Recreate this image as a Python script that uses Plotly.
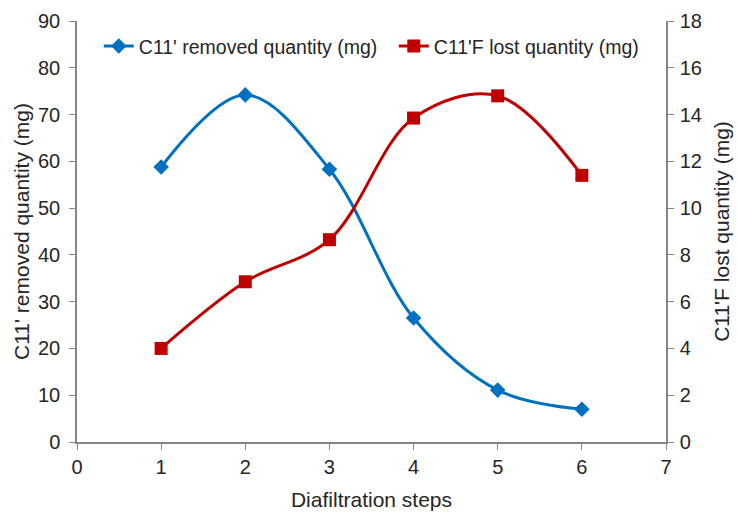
import plotly.graph_objects as go

steps = [1, 2, 3, 4, 5, 6]
removed = [58.8, 74.2, 58.3, 26.5, 11.1, 7.0]
lost = [4.0, 6.85, 8.65, 13.85, 14.8, 11.4]

blue = "#0070C0"
red = "#C00000"
axc = "#868686"
txt = "#262626"
font = "Liberation Sans, Arial, sans-serif"

fig = go.Figure()
fig.add_trace(go.Scatter(
    x=steps, y=removed, name="C11' removed quantity (mg)",
    mode="lines+markers", line=dict(color=blue, width=3, shape="spline", smoothing=1),
    marker=dict(symbol="diamond", size=12, color=blue)))
fig.add_trace(go.Scatter(
    x=steps, y=lost, name="C11'F lost quantity (mg)", yaxis="y2",
    mode="lines+markers", line=dict(color=red, width=3, shape="spline", smoothing=1),
    marker=dict(symbol="square", size=13, color=red)))

tickfont = dict(family=font, size=20, color=txt)
titlefont = dict(family=font, size=21, color=txt)
fig.update_layout(
    width=738, height=515,
    margin=dict(l=77, r=72, t=21, b=73),
    paper_bgcolor="white", plot_bgcolor="white",
    font=dict(family=font, color=txt),
    showlegend=True,
    legend=dict(orientation="h", x=0.037, y=0.94, xanchor="left", yanchor="middle",
                font=dict(family=font, size=19.5, color=txt), bgcolor="rgba(0,0,0,0)",
                entrywidth=250, tracegroupgap=0),
    xaxis=dict(range=[0, 7], dtick=1, showgrid=False, zeroline=False, automargin=False,
               showline=True, linecolor=axc, linewidth=1.5, ticks="outside",
               tickcolor=axc, ticklen=6, tickfont=tickfont,
               title=dict(text="Diafiltration steps", font=titlefont, standoff=16)),
    yaxis=dict(range=[0, 90], dtick=10, showgrid=False, zeroline=False, automargin=False,
               showline=True, linecolor=axc, linewidth=1.5, ticks="outside",
               tickcolor=axc, ticklen=6, tickfont=tickfont, ticklabelstandoff=5,
               title=dict(text="C11' removed quantity (mg)", font=titlefont, standoff=3)),
    yaxis2=dict(range=[0, 18], dtick=2, overlaying="y", side="right", showgrid=False,
                zeroline=False, showline=True, linecolor=axc, linewidth=1.5, automargin=False,
                ticks="outside", tickcolor=axc, ticklen=6, tickfont=tickfont, ticklabelstandoff=2,
                title=dict(text="C11'F lost quantity (mg)", font=titlefont, standoff=13)),
)

fig.write_html("out.html", config={"displayModeBar": False},
               post_script="document.body.style.margin='0';")
